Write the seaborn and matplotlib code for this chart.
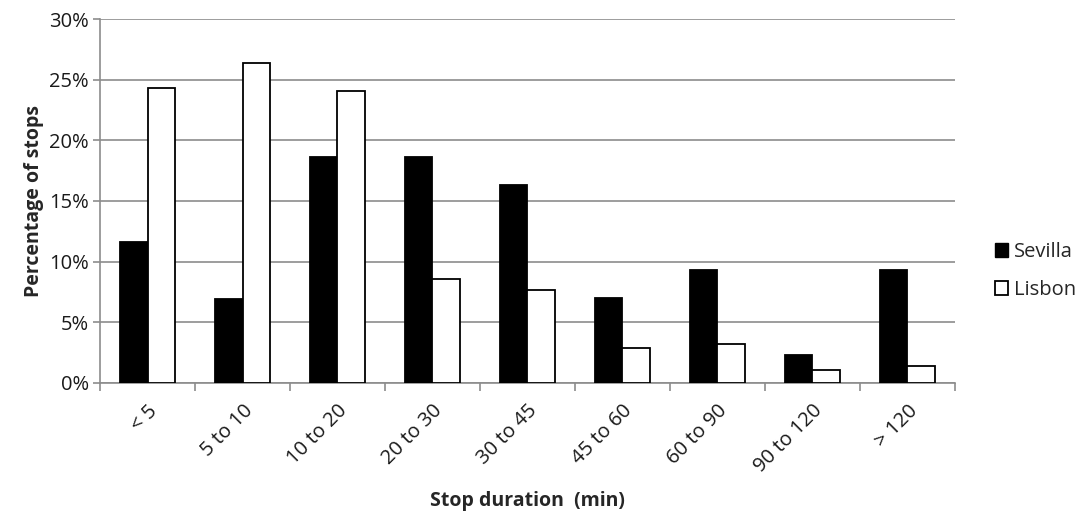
import matplotlib
matplotlib.use("Agg")
import matplotlib.pyplot as plt
import seaborn as sns
import pandas as pd
import numpy as np
from matplotlib.ticker import FuncFormatter, FixedLocator
from matplotlib.patches import Patch

categories = ["< 5", "5 to 10", "10 to 20", "20 to 30", "30 to 45",
              "45 to 60", "60 to 90", "90 to 120", "> 120"]
sevilla = [11.6, 6.9, 18.6, 18.6, 16.3, 7.0, 9.3, 2.3, 9.3]
lisbon = [24.3, 26.4, 24.1, 8.6, 7.7, 2.9, 3.2, 1.1, 1.4]
series = ["Sevilla", "Lisbon"]

df = pd.DataFrame({
    "cat": categories * 2,
    "val": sevilla + lisbon,
    "city": [series[0]] * len(categories) + [series[1]] * len(categories),
})

sns.set_theme(style="white")
plt.rcParams["font.family"] = ["Open Sans", "DejaVu Sans"]

FS = 14.5
fig = plt.figure(figsize=(10.79, 5.21), dpi=100)
ax = fig.add_axes([0.0927, 0.265, 0.7923, 0.6985])

grid_c = "#8c8c8c"
sns.barplot(data=df, x="cat", y="val", hue="city", order=categories,
            hue_order=series, palette={"Sevilla": "black", "Lisbon": "white"},
            width=0.58, gap=0, ax=ax, legend=False, zorder=3)
for p in ax.patches:
    p.set_edgecolor("black")
    p.set_linewidth(1.3)

ax.set_ylim(0, 30)
ax.set_xlim(-0.5, len(categories) - 0.5)
ax.set_yticks(np.arange(0, 31, 5))
ax.yaxis.set_major_formatter(FuncFormatter(lambda v, _: f"{int(v)}%"))
ax.yaxis.grid(True, color=grid_c, linewidth=1.2, zorder=0)
ax.set_axisbelow(True)

for s in ["top", "right"]:
    ax.spines[s].set_visible(False)
ax.spines["left"].set_color(grid_c)
ax.spines["bottom"].set_color(grid_c)
ax.spines["left"].set_linewidth(1.2)
ax.spines["bottom"].set_linewidth(1.2)

ax.tick_params(axis="y", which="major", length=5, color=grid_c, width=1.2,
               labelsize=FS, labelcolor="#1a1a1a", pad=3, left=True)
ax.tick_params(axis="x", which="major", length=0, labelsize=FS,
               labelcolor="#1a1a1a", pad=13)
ax.xaxis.set_minor_locator(FixedLocator(np.arange(-0.5, len(categories), 1)))
ax.tick_params(axis="x", which="minor", length=6, color=grid_c, width=1.2,
               bottom=True, direction="out")

ax.set_xticks(range(len(categories)))
ax.set_xticklabels(categories, rotation=45, ha="right", rotation_mode="anchor")

ax.set_xlabel("Stop duration  (min)", fontsize=FS - 0.5, fontweight="bold", labelpad=10)
ax.set_ylabel("Percentage of stops", fontsize=FS - 0.5, fontweight="bold", labelpad=4)

handles = [Patch(facecolor="black", edgecolor="black", label="Sevilla"),
           Patch(facecolor="white", edgecolor="black", linewidth=1.3, label="Lisbon")]
fig.legend(handles=handles, loc="center left", bbox_to_anchor=(0.905, 0.48),
           frameon=False, fontsize=FS, handlelength=0.65, handleheight=0.65,
           handletextpad=0.3, labelspacing=0.9)

fig.savefig("out.png", dpi=100)
